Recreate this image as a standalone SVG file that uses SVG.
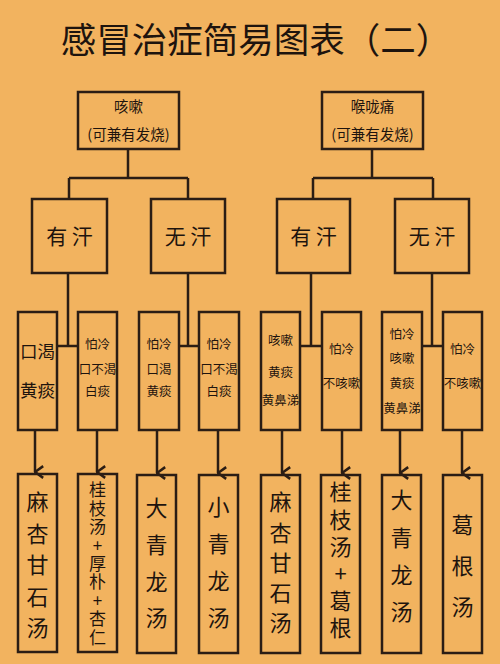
<svg xmlns="http://www.w3.org/2000/svg" width="500" height="664" viewBox="0 0 500 664">
<style>
.bx{fill:none;stroke:#2b1d14;stroke-width:2.5}
.ln{fill:none;stroke:#2b1d14;stroke-width:2.5}
text{font-family:"Noto Sans CJK SC","Noto Sans",sans-serif;fill:#1e140e;text-anchor:middle;dominant-baseline:central}
.t15{font-size:14.5px}
.t20{font-size:21px}
.t17{font-size:17.5px}
.t13{font-size:12.5px}
.v{writing-mode:vertical-rl;text-orientation:upright;text-anchor:start;dominant-baseline:auto;font-size:22px}
.v2{font-size:17px}
</style>
<defs>
<marker id="ah" markerUnits="userSpaceOnUse" markerWidth="14" markerHeight="12" refX="6" refY="9" orient="auto-start-reverse" viewBox="0 0 12 10">
<path d="M1,2 L6,9 L11,2" fill="none" stroke="#2b1d14" stroke-width="2.2"/>
</marker>
</defs>
<rect x="0" y="0" width="500" height="664" fill="#F2B35F"/>
<text x="256" y="37" style="font-size:35.5px">感冒治症简易图表（二）</text>

<g id="connectors">
<path class="ln" d="M128,149 V178 M69,178 H188 M69,178 V199 M188,178 V199"/>
<path class="ln" d="M372,149 V178 M313,178 H433 M313,178 V199 M433,178 V199"/>
<path class="ln" d="M68,273 V346 M57,346 H78"/>
<path class="ln" d="M188,273 V346 M179,346 H199"/>
<path class="ln" d="M311,273 V346 M300,346 H322"/>
<path class="ln" d="M432,273 V346 M422,346 H443"/>
<path class="ln" marker-end="url(#ah)" d="M35,430 V472"/>
<path class="ln" marker-end="url(#ah)" d="M97,430 V472"/>
<path class="ln" marker-end="url(#ah)" d="M157,430 V473"/>
<path class="ln" marker-end="url(#ah)" d="M218,430 V473"/>
<path class="ln" marker-end="url(#ah)" d="M282,430 V473"/>
<path class="ln" marker-end="url(#ah)" d="M342,430 V473"/>
<path class="ln" marker-end="url(#ah)" d="M400,430 V473"/>
<path class="ln" marker-end="url(#ah)" d="M462,430 V473"/>
</g>

<g id="n-cough">
<rect class="bx" x="78" y="92" width="101" height="57"/>
<text class="t15" x="128.5" y="105">咳嗽</text>
<text class="t15" x="128.5" y="133">(可兼有发烧)</text>
</g>
<g id="n-throat">
<rect class="bx" x="322" y="92" width="101" height="57"/>
<text class="t15" x="372.5" y="105">喉咙痛</text>
<text class="t15" x="372.5" y="133">(可兼有发烧)</text>
</g>

<g id="n-l-sweat">
<rect class="bx" x="32" y="199" width="75" height="74"/>
<text class="t20" x="69.5" y="235">有 汗</text>
</g>
<g id="n-l-nosweat">
<rect class="bx" x="151" y="199" width="74" height="74"/>
<text class="t20" x="188" y="235">无 汗</text>
</g>
<g id="n-r-sweat">
<rect class="bx" x="277" y="199" width="73" height="74"/>
<text class="t20" x="313.5" y="235">有 汗</text>
</g>
<g id="n-r-nosweat">
<rect class="bx" x="395" y="199" width="74" height="74"/>
<text class="t20" x="432" y="235">无 汗</text>
</g>

<g id="s1">
<rect class="bx" x="18" y="312" width="39" height="118"/>
<text class="t17" x="37.5" y="350">口渴</text>
<text class="t17" x="37.5" y="389">黄痰</text>
</g>
<g id="s2">
<rect class="bx" x="78" y="312" width="39" height="118"/>
<text class="t13" x="97.5" y="343">怕冷</text>
<text class="t13" x="97.5" y="368">口不渴</text>
<text class="t13" x="97.5" y="390">白痰</text>
</g>
<g id="s3">
<rect class="bx" x="139" y="312" width="40" height="118"/>
<text class="t13" x="159" y="343">怕冷</text>
<text class="t13" x="159" y="368">口渴</text>
<text class="t13" x="159" y="390">黄痰</text>
</g>
<g id="s4">
<rect class="bx" x="199" y="312" width="40" height="118"/>
<text class="t13" x="219" y="343">怕冷</text>
<text class="t13" x="219" y="368">口不渴</text>
<text class="t13" x="219" y="390">白痰</text>
</g>
<g id="s5">
<rect class="bx" x="261" y="312" width="39" height="118"/>
<text class="t13" x="280.5" y="339">咳嗽</text>
<text class="t13" x="280.5" y="371">黄痰</text>
<text class="t13" x="280.5" y="399">黄鼻涕</text>
</g>
<g id="s6">
<rect class="bx" x="322" y="312" width="39" height="118"/>
<text class="t13" x="341.5" y="348">怕冷</text>
<text class="t13" x="341.5" y="382">不咳嗽</text>
</g>
<g id="s7">
<rect class="bx" x="382" y="312" width="40" height="118"/>
<text class="t13" x="402" y="333">怕冷</text>
<text class="t13" x="402" y="357">咳嗽</text>
<text class="t13" x="402" y="382">黄痰</text>
<text class="t13" x="402" y="407">黄鼻涕</text>
</g>
<g id="s8">
<rect class="bx" x="443" y="312" width="39" height="118"/>
<text class="t13" x="462.5" y="348">怕冷</text>
<text class="t13" x="462.5" y="382">不咳嗽</text>
</g>

<g id="r1">
<rect class="bx" x="18" y="474" width="39" height="178"/>
<text class="v" x="37.5" y="491" letter-spacing="9.5">麻杏甘石汤</text>
</g>
<g id="r2">
<rect class="bx" x="78" y="474" width="39" height="178"/>
<text class="v v2" x="97.5" y="481.5" letter-spacing="1.4">桂枝汤+厚朴+杏仁</text>
</g>
<g id="r3">
<rect class="bx" x="137" y="475" width="39" height="178"/>
<text class="v" x="156.5" y="497" letter-spacing="14.7">大青龙汤</text>
</g>
<g id="r4">
<rect class="bx" x="199" y="475" width="39" height="178"/>
<text class="v" x="218.5" y="496" letter-spacing="15">小青龙汤</text>
</g>
<g id="r5">
<rect class="bx" x="261" y="475" width="39" height="178"/>
<text class="v" x="280.5" y="491" letter-spacing="8.25">麻杏甘石汤</text>
</g>
<g id="r6">
<rect class="bx" x="321" y="475" width="39" height="178"/>
<text class="v" x="340.5" y="481" letter-spacing="5.2">桂枝汤+葛根</text>
</g>
<g id="r7">
<rect class="bx" x="382" y="475" width="39" height="178"/>
<text class="v" x="401.5" y="489" letter-spacing="15.3">大青龙汤</text>
</g>
<g id="r8">
<rect class="bx" x="443" y="475" width="39" height="178"/>
<text class="v" x="462.5" y="514" letter-spacing="19">葛根汤</text>
</g>
</svg>
